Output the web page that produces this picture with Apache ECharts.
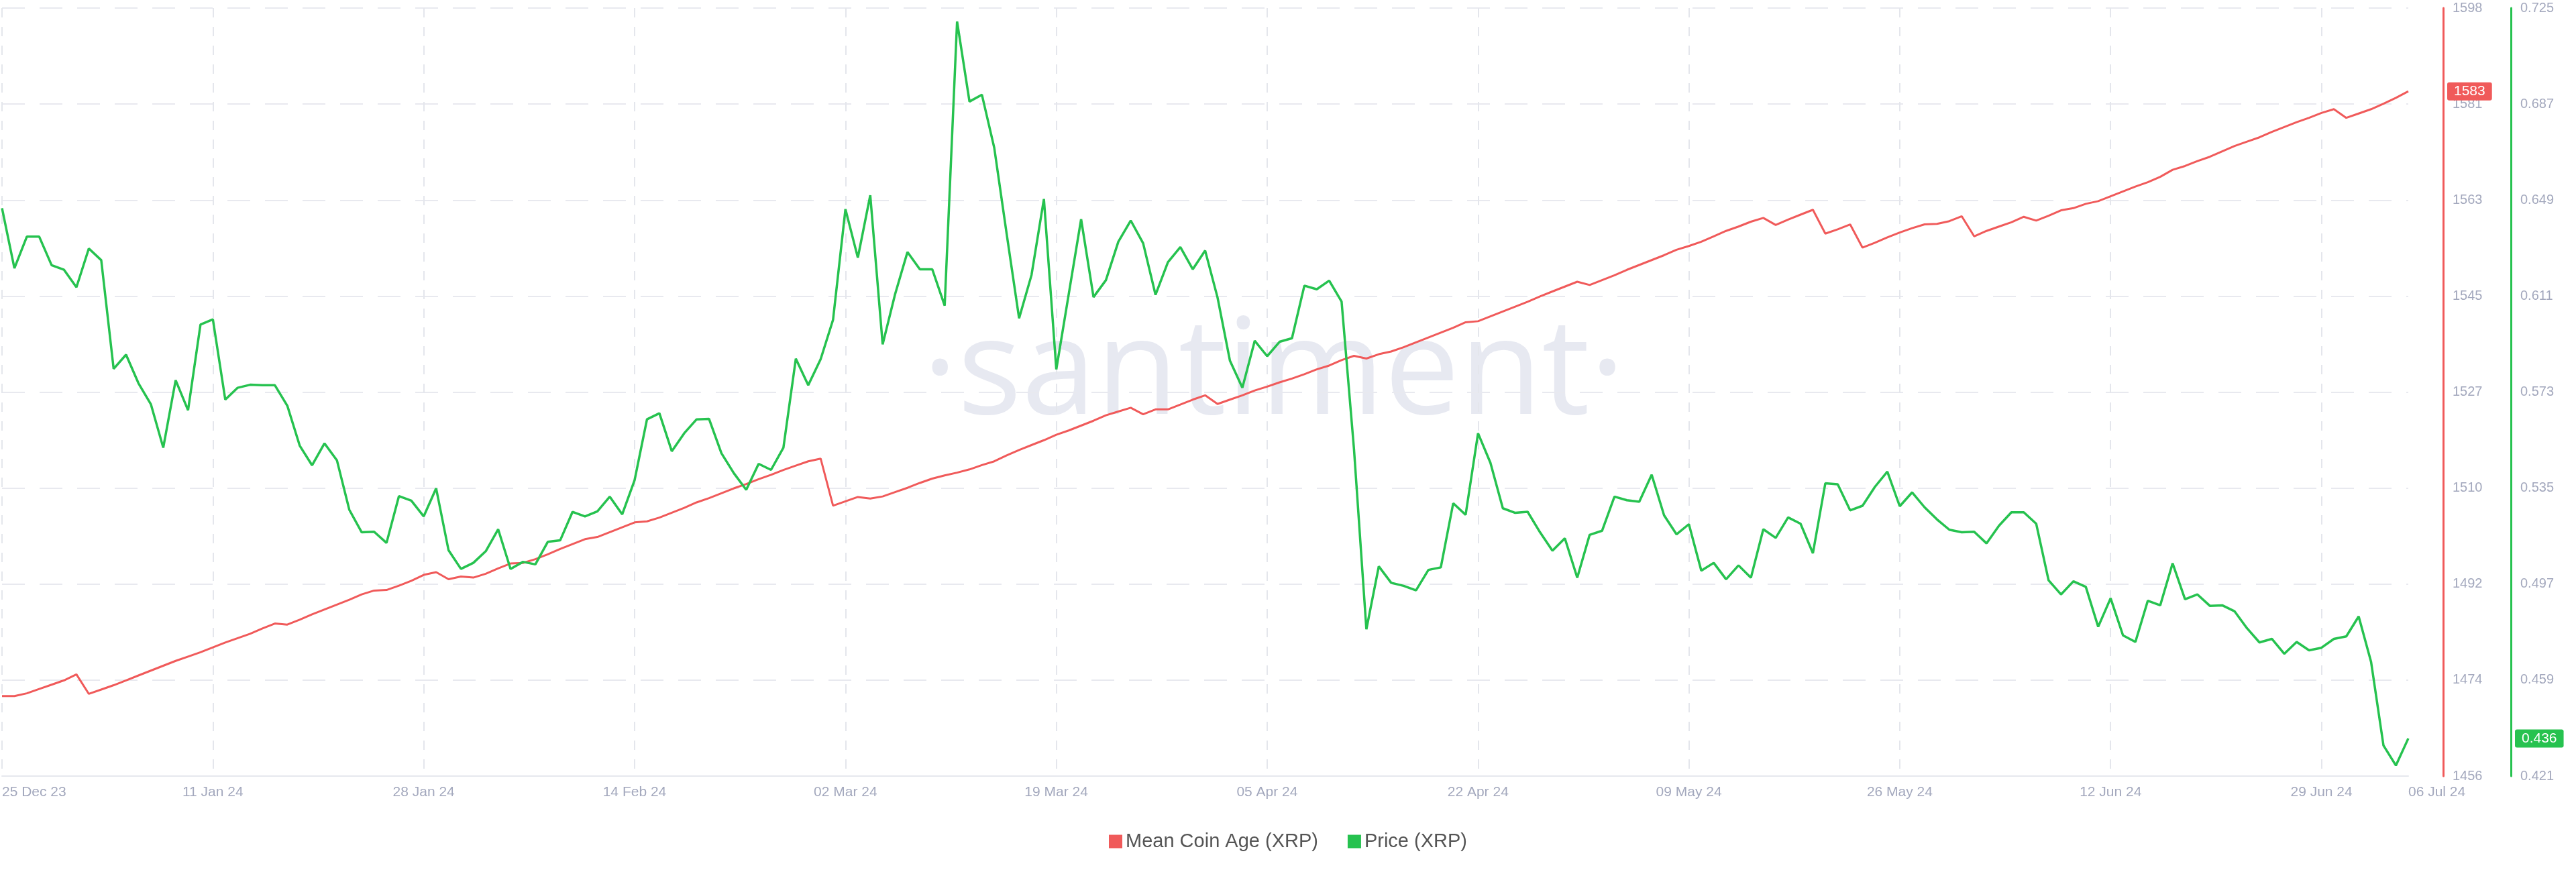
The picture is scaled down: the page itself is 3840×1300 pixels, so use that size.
<!DOCTYPE html>
<html><head><meta charset="utf-8">
<script src="https://cdn.jsdelivr.net/npm/echarts@6/dist/echarts.min.js"></script>
<style>html,body{margin:0;padding:0;background:#fff}#c{width:3840px;height:1300px}</style>
</head><body><div id="c"></div>
<script>
const startDate = '2023-12-25';
const dayCount = 195;
const xTickLabels = {0:'25 Dec 23',17:'11 Jan 24',34:'28 Jan 24',51:'14 Feb 24',68:'02 Mar 24',85:'19 Mar 24',102:'05 Apr 24',119:'22 Apr 24',136:'09 May 24',153:'26 May 24',170:'12 Jun 24',187:'29 Jun 24',194:'06 Jul 24'};
const ageTicks = ['1456','1474','1492','1510','1527','1545','1563','1581','1598'];
const priceTicks = ['0.421','0.459','0.497','0.535','0.573','0.611','0.649','0.687','0.725'];

const meanCoinAge = [1470.8,1470.8,1471.3,1472.1,1472.9,1473.7,1474.8,1471.2,1472.0,1472.8,1473.7,1474.6,1475.5,1476.4,1477.3,1478.1,1478.9,1479.8,1480.7,1481.5,
1482.3,1483.3,1484.2,1484.0,1484.9,1485.9,1486.8,1487.7,1488.6,1489.6,1490.3,1490.4,1491.2,1492.1,1493.2,1493.7,1492.4,1492.9,1492.7,1493.4,
1494.4,1495.3,1495.4,1496.1,1497.0,1498.0,1498.9,1499.8,1500.2,1501.1,1502.0,1502.9,1503.1,1503.8,1504.7,1505.6,1506.6,1507.4,1508.3,1509.2,
1510.0,1510.9,1511.7,1512.6,1513.4,1514.2,1514.7,1506.0,1506.8,1507.6,1507.3,1507.7,1508.5,1509.3,1510.2,1511.0,1511.6,1512.1,1512.7,1513.5,
1514.2,1515.3,1516.3,1517.2,1518.1,1519.1,1519.9,1520.8,1521.7,1522.7,1523.4,1524.1,1522.9,1523.8,1523.8,1524.7,1525.6,1526.4,1524.8,1525.6,
1526.4,1527.3,1528.0,1528.8,1529.5,1530.3,1531.2,1531.9,1532.9,1533.7,1533.2,1534.0,1534.5,1535.3,1536.2,1537.1,1538.0,1538.9,1539.9,1540.1,
1541.0,1541.9,1542.8,1543.7,1544.7,1545.6,1546.5,1547.4,1546.8,1547.7,1548.6,1549.6,1550.5,1551.4,1552.3,1553.3,1554.0,1554.8,1555.8,1556.8,
1557.6,1558.5,1559.2,1557.9,1558.9,1559.8,1560.7,1556.3,1557.1,1558.0,1553.7,1554.6,1555.6,1556.5,1557.3,1558.0,1558.1,1558.6,1559.5,1555.8,
1556.8,1557.6,1558.4,1559.4,1558.7,1559.6,1560.6,1561.0,1561.8,1562.3,1563.2,1564.1,1565.0,1565.8,1566.8,1568.1,1568.8,1569.7,1570.5,1571.5,
1572.5,1573.3,1574.1,1575.1,1576.0,1576.9,1577.7,1578.6,1579.3,1577.7,1578.5,1579.3,1580.3,1581.4,1582.6];

const price = [0.6458,0.6220,0.6345,0.6345,0.6232,0.6214,0.6145,0.6298,0.6252,0.5822,0.5878,0.5765,0.5682,0.5510,0.5777,0.5658,0.5997,0.6018,0.5700,0.5747,
0.5759,0.5757,0.5757,0.5676,0.5518,0.5440,0.5527,0.5460,0.5264,0.5175,0.5177,0.5133,0.5318,0.5300,0.5238,0.5349,0.5104,0.5030,0.5054,0.5100,
0.5187,0.5030,0.5058,0.5048,0.5137,0.5143,0.5256,0.5238,0.5258,0.5316,0.5246,0.5381,0.5622,0.5646,0.5496,0.5567,0.5622,0.5624,0.5488,0.5409,
0.5343,0.5446,0.5422,0.5510,0.5862,0.5757,0.5860,0.6016,0.6454,0.6262,0.6509,0.5919,0.6117,0.6284,0.6216,0.6216,0.6072,0.7197,0.6880,0.6907,
0.6696,0.6355,0.6022,0.6193,0.6494,0.5820,0.6117,0.6414,0.6106,0.6173,0.6325,0.6409,0.6319,0.6115,0.6244,0.6304,0.6216,0.6290,0.6104,0.5854,
0.5747,0.5933,0.5872,0.5929,0.5943,0.6151,0.6137,0.6171,0.6088,0.5504,0.4791,0.5040,0.4975,0.4963,0.4945,0.5026,0.5036,0.5290,0.5244,0.5567,
0.5450,0.5270,0.5252,0.5256,0.5175,0.5102,0.5151,0.4995,0.5165,0.5181,0.5316,0.5302,0.5296,0.5403,0.5242,0.5167,0.5207,0.5023,0.5054,0.4989,
0.5044,0.4995,0.5187,0.5153,0.5234,0.5209,0.5092,0.5369,0.5365,0.5262,0.5280,0.5355,0.5415,0.5278,0.5333,0.5274,0.5226,0.5185,0.5175,0.5177,
0.5131,0.5201,0.5254,0.5254,0.5209,0.4985,0.4929,0.4981,0.4959,0.4801,0.4914,0.4767,0.4741,0.4904,0.4886,0.5052,0.4910,0.4929,0.4884,0.4886,
0.4862,0.4795,0.4739,0.4753,0.4694,0.4741,0.4708,0.4718,0.4753,0.4763,0.4842,0.4662,0.4331,0.4252,0.4359];

const dates = [];
{ const d0 = new Date(startDate + 'T00:00:00Z');
  for (let i = 0; i < dayCount; i++) { const d = new Date(d0.getTime() + i*86400000); dates.push(d.toISOString().slice(0,10)); } }

const RED = '#f05a5a', GREEN = '#26c24f', LBL = '#a3a8bd';
const ageMin = 1456, ageMax = 1598, priceMin = 0.421, priceMax = 0.725;
const chart = echarts.init(document.getElementById('c'));
const showX = (i) => xTickLabels[i] !== undefined;
chart.setOption({
  animation: false,
  grid: {left: 0, right: 250, top: 12, bottom: 143},
  graphic: [{type:'text', left: 1375, top: 460, z: 0, style:{text:'·santiment·', fontSize: 200, fontFamily:'Open Sans', fill:'#e7e9f1'}}],
  legend: {bottom: 26, left: 'center', itemWidth: 20, itemHeight: 20, itemGap: 44, icon: 'rect',
    textStyle: {fontSize: 29, color: '#555', fontFamily: 'Liberation Sans'},
    data: ['Mean Coin Age (XRP)', 'Price (XRP)']},
  axisPointer: {triggerOn: 'none'},
  xAxis: {type: 'category', data: dates, boundaryGap: false,
    axisLine: {lineStyle: {color: '#e6e8ee', width: 2}}, axisTick: {show: false},
    axisLabel: {interval: (i) => showX(i), formatter: (v, i) => xTickLabels[i] || '', color: LBL, fontSize: 21,
      fontFamily: 'Liberation Sans Narrow, Liberation Sans', margin: 14, alignMinLabel: 'left', alignMaxLabel: 'left'},
    splitLine: {show: true, interval: (i) => showX(i) && i !== 194, lineStyle: {color: '#e4e6ec', type: [14, 14], width: 2}}},
  yAxis: [
    {type: 'value', position: 'right', offset: 52, min: ageMin, max: ageMax, interval: (ageMax-ageMin)/8,
      axisLine: {show: true, lineStyle: {color: RED, width: 3}}, axisTick: {show: false},
      axisLabel: {color: LBL, fontSize: 20, fontFamily: 'Liberation Sans', margin: 14,
        formatter: (v) => ageTicks[Math.round((v-ageMin)/((ageMax-ageMin)/8))]},
      splitLine: {show: true, lineStyle: {color: '#e8e9ef', type: [34, 22], width: 2}},
      axisPointer: {show: true, value: meanCoinAge[meanCoinAge.length-1], status: 'show', triggerTooltip: false,
        lineStyle: {opacity: 0}, label: {show: true, backgroundColor: RED, color: '#fff', fontSize: 21,
        fontFamily: 'Liberation Sans', padding: [3, 10], margin: 6, formatter: (p) => Math.round(p.value)}}},
    {type: 'value', position: 'right', offset: 153, min: priceMin, max: priceMax, interval: (priceMax-priceMin)/8,
      axisLine: {show: true, lineStyle: {color: GREEN, width: 3}}, axisTick: {show: false},
      axisLabel: {color: LBL, fontSize: 20, fontFamily: 'Liberation Sans', margin: 14,
        formatter: (v) => priceTicks[Math.round((v-priceMin)/((priceMax-priceMin)/8))]},
      splitLine: {show: false},
      axisPointer: {show: true, value: price[price.length-1], status: 'show', triggerTooltip: false,
        lineStyle: {opacity: 0}, label: {show: true, backgroundColor: GREEN, color: '#fff', fontSize: 21,
        fontFamily: 'Liberation Sans', padding: [3, 10], margin: 6, formatter: (p) => p.value.toFixed(3)}}}
  ],
  series: [
    {name: 'Mean Coin Age (XRP)', type: 'line', yAxisIndex: 0, data: meanCoinAge, showSymbol: false, z: 3,
      lineStyle: {color: RED, width: 3}, itemStyle: {color: RED}},
    {name: 'Price (XRP)', type: 'line', yAxisIndex: 1, data: price, showSymbol: false, z: 4,
      lineStyle: {color: GREEN, width: 3.5}, itemStyle: {color: GREEN}}
  ]
});
</script></body></html>
